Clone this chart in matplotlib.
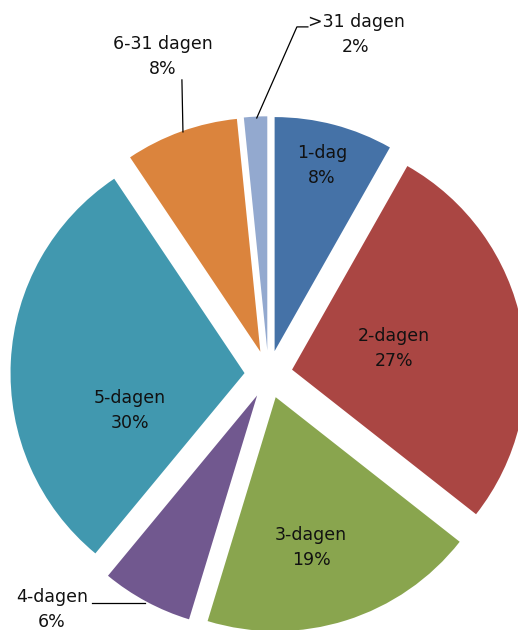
import matplotlib
matplotlib.use("Agg")
import matplotlib.pyplot as plt
import numpy as np

categories = ["1-dag", "2-dagen", "3-dagen", "4-dagen", "5-dagen", "6-31 dagen", ">31 dagen"]
percentages = [8.2, 27.4, 19.1, 6.3, 29.6, 7.8, 1.6]
colors = ["#4572A7", "#AA4643", "#89A54E", "#71588F", "#4198AF", "#DB843D", "#93A9CF"]

# label placement (clock angle from top, distance as fraction of radius, from wedge apex)
label_angle = [14.4, 78.5, 166.7, 223.8, 252.1, 341.7, 15.7]
label_dist = [0.817, 0.444, 0.658, 1.266, 0.514, 1.327, 1.40]

W, H = 518, 630
fig = plt.figure(figsize=(W / 100, H / 100), dpi=100)
ax = fig.add_axes([0, 0, 1, 1])

R = 234
EXP = 24
CX, CY = 268.5, H - 374.3
wedges, _ = ax.pie(percentages, colors=colors, startangle=90, counterclock=False,
                   radius=R, center=(CX, CY), explode=[EXP] * len(percentages),
                   wedgeprops=dict(linewidth=0), frame=True)
ax.set_xlim(0, W)
ax.set_ylim(0, H)
ax.set_aspect('equal')
ax.axis('off')


def pt(wedge, ang, dist):
    cx, cy = wedge.center
    a = np.radians(ang)
    return cx + dist * R * np.sin(a), cy + dist * R * np.cos(a)


font = dict(family=["DejaVu Sans"], fontsize=12.5, color="#111111",
            ha="center", va="center", linespacing=1.5)

for w, cat, p, ang, d in zip(wedges, categories, percentages, label_angle, label_dist):
    x, y = pt(w, ang, d)
    ax.text(x, y, f"{cat}\n{round(p)}%", **font)

lw = 0.9
# 6-31 dagen leader
w = wedges[5]
a0 = pt(w, 340.6, 0.996)
a1 = pt(w, 343.9, 1.209)
ax.plot([a0[0], a1[0]], [a0[1], a1[1]], color="black", lw=lw)
# >31 dagen leader
w = wedges[6]
b0 = pt(w, 357.4, 0.994)
b1 = pt(w, 5.23, 1.388)
ax.plot([b0[0], b1[0], b1[0] + 11], [b0[1], b1[1], b1[1]], color="black", lw=lw)
# 4-dagen leader
w = wedges[3]
c0 = pt(w, 208.4, 1.008)
ax.plot([c0[0], c0[0] - 53], [c0[1], c0[1]], color="black", lw=lw)

fig.savefig("out.png", dpi=100, facecolor="white")
